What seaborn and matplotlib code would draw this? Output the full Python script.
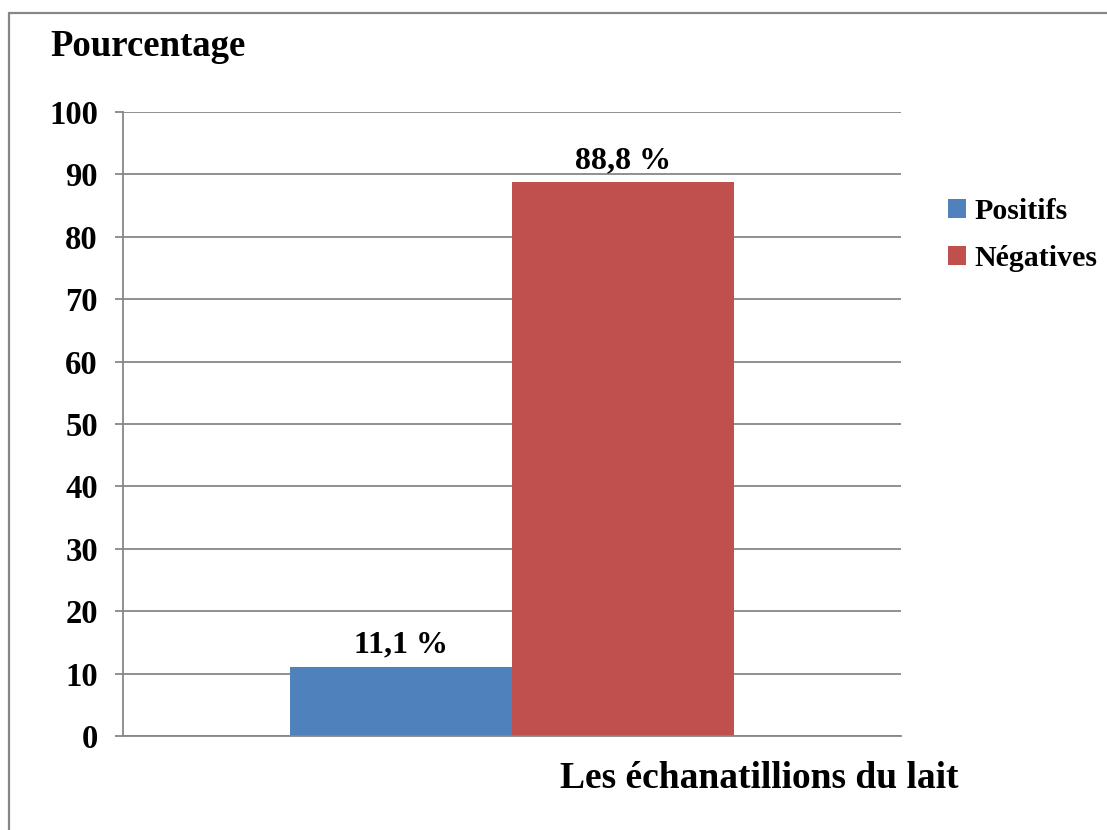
import numpy as np
import pandas as pd
import seaborn as sns
import matplotlib.pyplot as plt
from matplotlib.lines import Line2D

# data
groupe = ['Les échanatillions du lait']
series = ['Positifs', 'Négatives']
valeurs = [11.1, 88.8]
etiquettes = ['11,1 %', '88,8 %']
couleurs = ['#4F81BD', '#C0504D']
yticks = [0, 10, 20, 30, 40, 50, 60, 70, 80, 90, 100]

df = pd.DataFrame({'groupe': groupe * 2, 'serie': series, 'valeur': valeurs})

sns.set_style('white')
plt.rcParams['font.family'] = ['Liberation Serif', 'DejaVu Serif']
plt.rcParams['font.weight'] = 'bold'
plt.rcParams['text.color'] = 'black'
plt.rcParams['ytick.labelcolor'] = 'black'

fig = plt.figure(figsize=(11.07, 8.3), dpi=100)
ax = fig.add_axes([123/1107, 1-736/830, 778/1107, 624/830])

sns.barplot(data=df, x='groupe', y='valeur', hue='serie', palette=couleurs,
            width=0.571, saturation=1, linewidth=0, ax=ax, legend=True)

ax.set_ylim(0, 100)
ax.set_xlim(-0.5, 0.5)
ax.set_yticks(yticks)
ax.set_yticklabels([str(t) for t in yticks], fontsize=23.5, fontweight='bold', color='black')
ax.set_xticks([])
ax.set_xlabel('')
ax.set_ylabel('')
ax.yaxis.grid(True, color='#878787', linewidth=1.3)
ax.set_axisbelow(True)
for s in ['top', 'right']:
    ax.spines[s].set_visible(False)
for s in ['left', 'bottom']:
    ax.spines[s].set_color('#878787')
    ax.spines[s].set_linewidth(1.3)
ax.tick_params(axis='y', left=True, length=6, width=1.3, color='#878787', pad=12)

for cont, lab in zip(ax.containers, etiquettes):
    ax.bar_label(cont, labels=[lab], padding=5, fontsize=23, fontweight='bold', color='black')

leg = ax.legend(loc='upper left', bbox_to_anchor=(1.045, 0.882), frameon=False,
                prop={'size': 21.5, 'weight': 'bold'}, handlelength=0.6, handleheight=0.6,
                handletextpad=0.3, labelspacing=0.7, borderaxespad=0)
for t in leg.get_texts():
    t.set_color('black')

fig.text(50/1107, 1-46/830, 'Pourcentage', fontsize=26.5, fontweight='bold', va='center', ha='left', color='black')
fig.text(759/1107, 1-778/830, 'Les échanatillions du lait', fontsize=27, fontweight='bold',
         va='center', ha='center', color='black')

# cadre
fig.add_artist(Line2D([9/1107, 1], [1-13/830, 1-13/830], transform=fig.transFigure, color='#878787', linewidth=1.6))
fig.add_artist(Line2D([9/1107, 9/1107], [1-13/830, 0], transform=fig.transFigure, color='#878787', linewidth=1.6))

fig.savefig('out.png', dpi=100)
